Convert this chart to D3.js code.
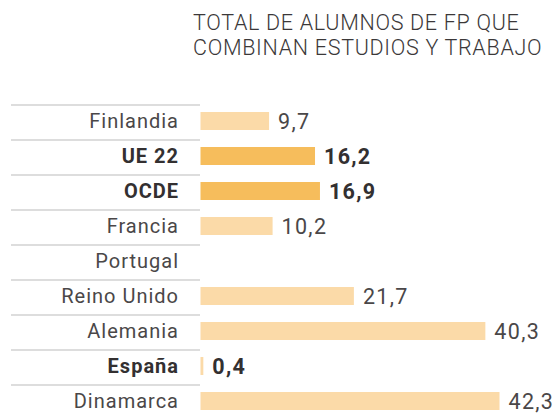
<!DOCTYPE html>
<html>
<head>
<meta charset="utf-8">
<script src="https://cdn.jsdelivr.net/npm/d3@7"></script>
<style>
  body { margin: 0; background: #fff; }
  svg { display: block; }
</style>
</head>
<body>
<div id="chart"></div>
<script>
const width = 556;
const height = 414;

// datos
const paises = ["Finlandia", "UE 22", "OCDE", "Francia", "Portugal", "Reino Unido", "Alemania", "España", "Dinamarca"];
const valores = [9.7, 16.2, 16.9, 10.2, null, 21.7, 40.3, 0.4, 42.3];
const destacados = ["UE 22", "OCDE"]; // barras en color fuerte
const negritas = ["UE 22", "OCDE", "España"];
const titulo = ["TOTAL DE ALUMNOS DE FP QUE", "COMBINAN ESTUDIOS Y TRABAJO"];

const row_h = 35;
const top_y = 105;
const bar_x0 = 200.5;
const font = "Roboto, 'Liberation Sans', sans-serif";

const svg = d3.select("#chart").append("svg")
	.attr("width", width)
	.attr("height", height);

const data = paises.map((p, i) => ({ pais: p, valor: valores[i] }));

// escalas
const y = d3.scaleBand()
	.domain(paises)
	.range([top_y, top_y + row_h * paises.length])
	.padding(0);

const x = d3.scaleLinear()
	.domain([0, 42.3])
	.range([bar_x0, 499.5]);

const fmt = v => d3.format(".1f")(v).replace(".", ",");

// titulo
svg.append("text")
	.attr("x", 193)
	.attr("y", 30)
	.attr("font-family", font)
	.attr("font-weight", 300)
	.attr("font-size", 21.5)
	.attr("letter-spacing", 0.7)
	.attr("fill", "#3b3839")
	.selectAll("tspan")
	.data(titulo)
	.join("tspan")
		.attr("x", 193)
		.attr("dy", (d, i) => i ? 25 : 0)
		.text(d => d);

// separadores
svg.append("g").selectAll("line")
	.data(paises)
	.join("line")
		.attr("x1", 11)
		.attr("x2", 200)
		.attr("y1", d => y(d))
		.attr("y2", d => y(d))
		.attr("stroke", "#d2d2d2")
		.attr("stroke-width", 1.5);

// etiquetas de paises
svg.append("g").selectAll("text")
	.data(data)
	.join("text")
		.attr("x", 179)
		.attr("y", d => y(d.pais) + 15.5)
		.attr("dy", "0.35em")
		.attr("text-anchor", "end")
		.attr("font-family", font)
		.attr("font-size", 20)
		.attr("letter-spacing", 1)
		.attr("font-weight", d => negritas.includes(d.pais) ? 700 : 400)
		.attr("fill", d => negritas.includes(d.pais) ? "#333031" : "#4a4748")
		.text(d => d.pais);

// barras
const conValor = data.filter(d => d.valor != null);

svg.append("g").selectAll("rect")
	.data(conValor)
	.join("rect")
		.attr("x", x(0))
		.attr("y", d => y(d.pais) + 7)
		.attr("width", d => x(d.valor) - x(0))
		.attr("height", 18)
		.attr("fill", d => destacados.includes(d.pais) ? "#f6bd5c" : "#fbdaa8");

// valores
svg.append("g").selectAll("text")
	.data(conValor)
	.join("text")
		.attr("x", d => x(d.valor) + 9)
		.attr("y", d => y(d.pais) + 16)
		.attr("dy", "0.35em")
		.attr("font-family", font)
		.attr("font-size", 21.5)
		.attr("letter-spacing", 1.3)
		.attr("font-weight", d => negritas.includes(d.pais) ? 700 : 400)
		.attr("fill", d => negritas.includes(d.pais) ? "#333031" : "#4a4748")
		.text(d => fmt(d.valor));
</script>
</body>
</html>
